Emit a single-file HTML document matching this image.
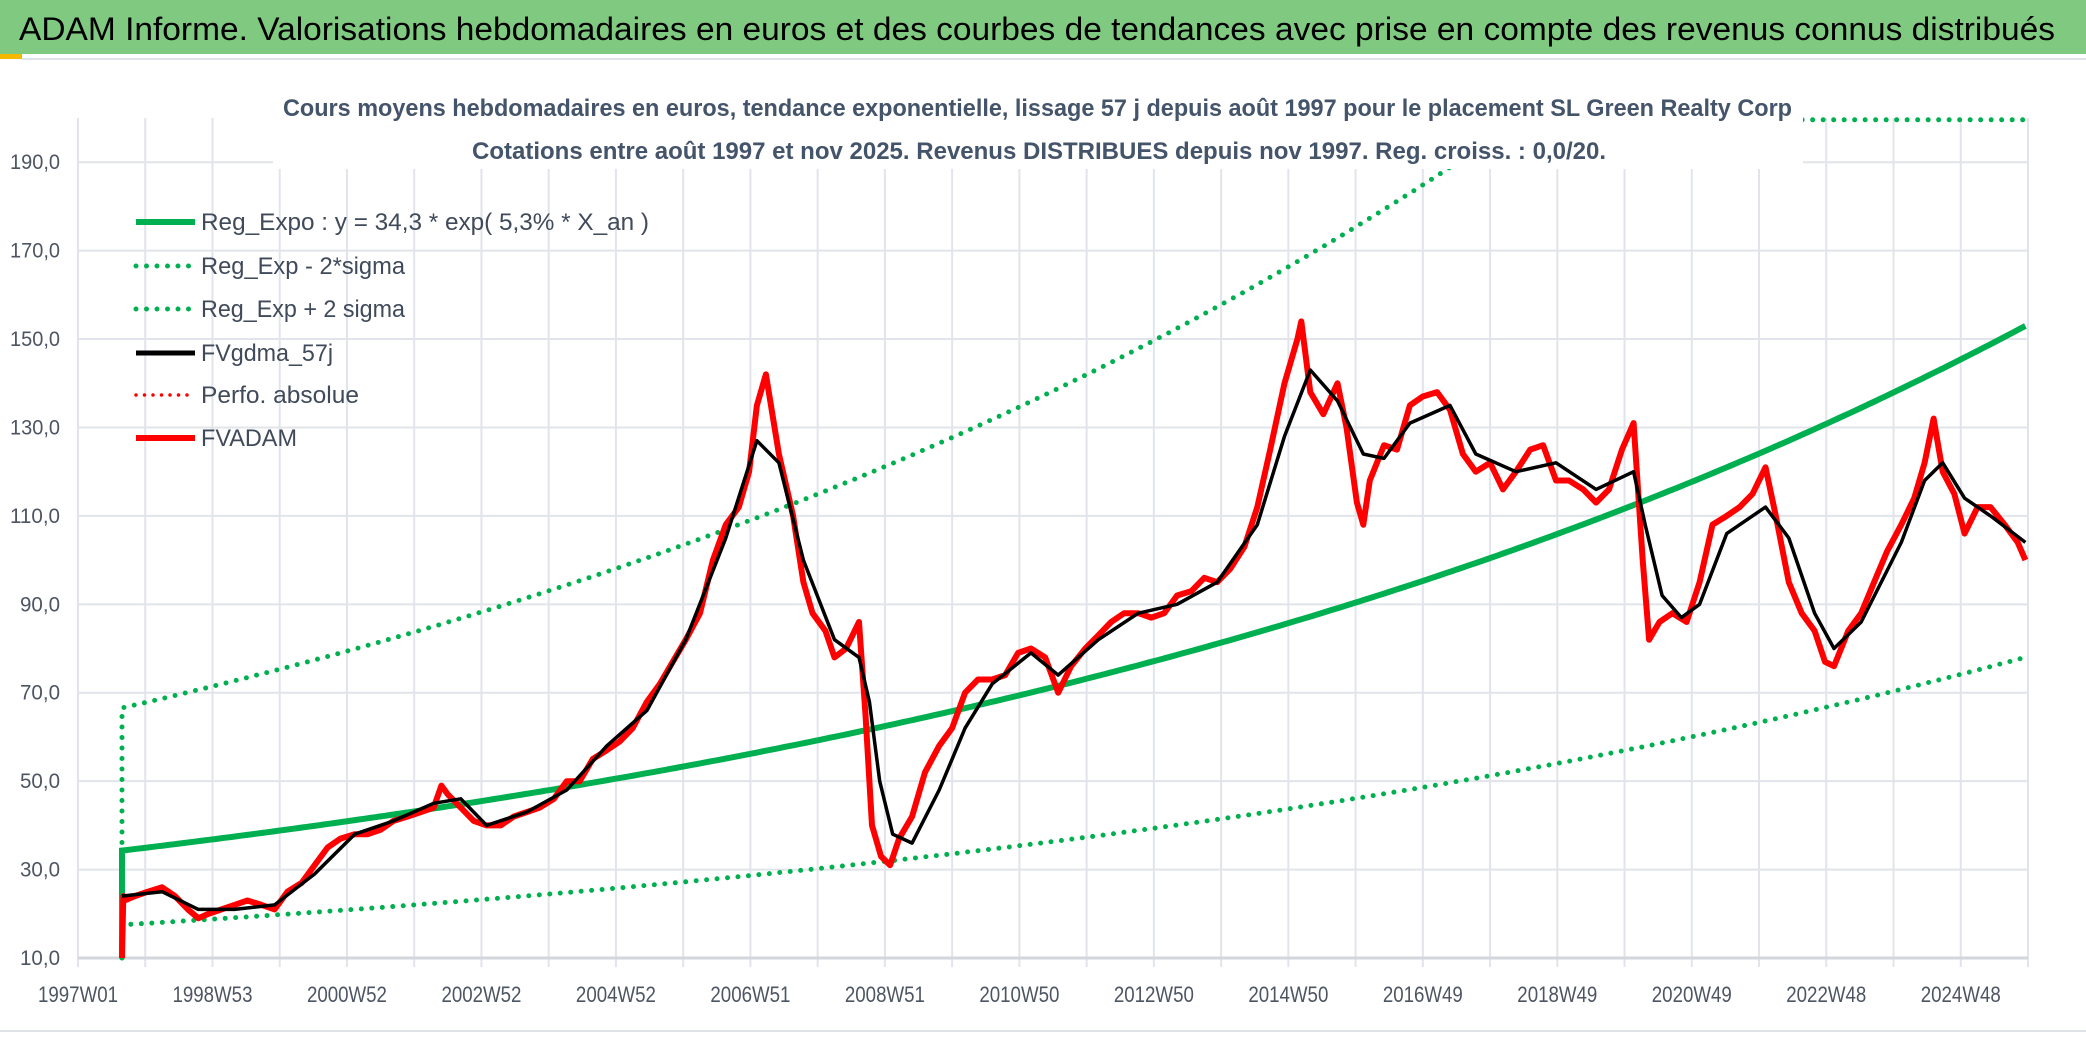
<!DOCTYPE html>
<html><head><meta charset="utf-8"><style>
html,body{margin:0;padding:0;background:#fff;}
svg{display:block;font-family:"Liberation Sans",sans-serif;}
</style></head><body>
<svg id="chart" width="2086" height="1037" viewBox="0 0 2086 1037">
<rect x="0" y="0" width="2086" height="1037" fill="#fff"/>
<rect x="0" y="0" width="2086" height="54" fill="#80c980"/>
<text x="19" y="40" font-size="32" fill="#000" textLength="2036" lengthAdjust="spacingAndGlyphs">ADAM Informe. Valorisations hebdomadaires en euros et des courbes de tendances avec prise en compte des revenus connus distribués</text>
<rect x="0" y="54" width="22" height="5" fill="#f5b800"/>
<line x1="22" y1="59" x2="2086" y2="59" stroke="#dfe2e6" stroke-width="2"/>
<line x1="0" y1="1031" x2="2086" y2="1031" stroke="#dfe2e6" stroke-width="2"/>
<g id="grid"></g>
<g id="yaxis"></g>
<g id="xaxis"></g>
<g id="series"></g>
<rect x="273" y="86" width="1530" height="83" fill="#fff"/>
<text x="283" y="116" font-size="24" font-weight="bold" fill="#44546a" textLength="1509" lengthAdjust="spacingAndGlyphs">Cours moyens hebdomadaires en euros, tendance exponentielle, lissage 57 j depuis août 1997 pour le placement SL Green Realty Corp</text>
<text x="472" y="159" font-size="24" font-weight="bold" fill="#44546a" textLength="1134" lengthAdjust="spacingAndGlyphs">Cotations entre août 1997 et nov 2025. Revenus DISTRIBUES depuis nov 1997. Reg. croiss. : 0,0/20.</text>
<g id="legend"></g>
</svg>
<script>
// ---- data ----
const xTickLabels = ["1997W01","1998W53","2000W52","2002W52","2004W52","2006W51","2008W51","2010W50","2012W50","2014W50","2016W49","2018W49","2020W49","2022W48","2024W48"];
const yTickValues = [10,30,50,70,90,110,130,150,170,190];
const regA = 34.3;        // y = 34.3 * exp(5.3% * X_an)
const regB = 0.053;
const sigmaUpFactor = 1.94;
const sigmaDownFactor = 0.51;
const regStartWeek = 34;
const regEndWeek = 1506;
const adamWeeks = [34,35,36,44,54,65,75,85,93,101,111,121,131,142,152,162,173,183,193,203,214,224,234,244,255,265,275,281,286,296,306,316,327,337,347,357,368,378,388,398,409,419,429,440,450,460,470,481,491,501,511,519,525,532,542,553,561,568,578,585,594,604,609,614,621,628,635,645,655,666,676,686,696,707,717,727,737,748,758,768,779,789,799,809,820,830,840,850,861,871,881,891,902,912,922,933,943,946,953,963,974,981,989,994,999,1010,1020,1030,1040,1051,1061,1071,1081,1092,1102,1112,1123,1133,1143,1153,1164,1174,1184,1194,1203,1210,1215,1223,1233,1244,1254,1264,1275,1285,1295,1305,1313,1323,1333,1343,1351,1358,1369,1379,1389,1399,1410,1420,1428,1435,1442,1451,1459,1469,1479,1490,1500,1506];
const adamValues = [10,24,23,24,25,26,24,21,19,20,21,22,23,22,21,25,27,31,35,37,38,38,39,41,42,43,44,49,47,44,41,40,40,42,43,44,46,50,50,55,57,59,62,68,72,77,82,88,100,108,112,120,135,142,124,110,95,88,84,78,80,86,65,40,33,31,37,42,52,58,62,70,73,73,74,79,80,78,70,76,80,83,86,88,88,87,88,92,93,96,95,98,103,112,125,140,150,154,138,133,140,130,113,108,118,126,125,135,137,138,134,124,120,122,116,120,125,126,118,118,116,113,116,125,131,100,82,86,88,86,95,108,110,112,115,121,110,95,88,84,77,76,84,88,95,102,108,114,122,132,120,115,106,112,112,108,104,100];
const smoothWeeks = [34,65,93,121,152,183,214,244,275,296,316,347,378,409,440,470,501,525,542,561,585,604,612,620,630,645,666,686,707,737,758,789,820,850,881,912,933,953,974,994,1010,1030,1061,1081,1112,1143,1174,1203,1212,1225,1240,1254,1275,1305,1323,1343,1358,1379,1410,1428,1442,1459,1479,1506];
const smoothValues = [24,25,21,21,22,29,38,41,45,46,40,43,48,58,66,82,105,127,122,100,82,78,68,50,38,36,48,62,72,79,74,82,88,90,95,108,128,143,136,124,123,131,135,124,120,122,116,120,108,92,87,90,106,112,105,88,80,86,104,118,122,114,110,104];

// ---- axes ----
const NS="http://www.w3.org/2000/svg";
const X0=78, X1=2028, WMAX=1508, Y0=958, Y1=118, VMIN=10, VMAX=200;
const xs = w => X0 + (w/WMAX)*(X1-X0);
const ys = v => Y0 - (v-VMIN)/(VMAX-VMIN)*(Y0-Y1);
function mk(tag, attrs, parent){const e=document.createElementNS(NS,tag);for(const k in attrs)e.setAttribute(k,attrs[k]);parent.appendChild(e);return e;}
const grid=document.getElementById('grid'), yax=document.getElementById('yaxis'), xax=document.getElementById('xaxis'), ser=document.getElementById('series'), leg=document.getElementById('legend');

for(let w=0; w<=WMAX; w+=52){
  const l=mk('line',{x1:xs(w),x2:xs(w),y1:Y1,y2:Y0+9,stroke:'#e1e4ea','stroke-width':2},grid);
  
  
}
yTickValues.forEach(v=>{
  const l=mk('line',{x1:X0,x2:X1,y1:ys(v),y2:ys(v),stroke:v===10?'#d3d6dc':'#e1e4ea','stroke-width':v===10?3:2},grid);
  
  
  const lab=v.toFixed(1).replace('.',',');
  const t=mk('text',{x:60,y:ys(v)+7,'font-size':21,fill:'#4d5562','text-anchor':'end',textLength:lab.length*10,lengthAdjust:'spacingAndGlyphs'},yax);
  t.textContent=lab;
  
  
});
xTickLabels.forEach((lab,i)=>{
  const t=mk('text',{x:xs(i*104),y:1002,'font-size':22,fill:'#4d5562','text-anchor':'middle',textLength:80,lengthAdjust:'spacingAndGlyphs'},xax);
  t.textContent=lab;
  
  
});

// ---- series ----
function regVal(w, f){return Math.min(199.6, regA*Math.exp(regB*(w-regStartWeek)/52.18)*f);}
function regPath(f){
  let d='M'+xs(regStartWeek)+','+ys(10);
  for(let w=regStartWeek; w<=regEndWeek; w+=4){d+=' L'+xs(w).toFixed(1)+','+ys(regVal(w,f)).toFixed(1);}
  return d;
}
const dotted={fill:'none',stroke:'#00b050','stroke-width':5,'stroke-linecap':'round','stroke-dasharray':'0 10.5'};
const up=mk('path',Object.assign({d:regPath(sigmaUpFactor)},dotted),ser);


const dn=mk('path',Object.assign({d:regPath(sigmaDownFactor)},dotted),ser);


const ctr=mk('path',{d:regPath(1),fill:'none',stroke:'#00b050','stroke-width':6},ser);



function linePath(ws, vs){return ws.map((w,i)=>(i?'L':'M')+xs(w).toFixed(1)+','+ys(vs[i]).toFixed(1)).join(' ');}
const red=mk('path',{d:linePath(adamWeeks,adamValues),fill:'none',stroke:'#ff0000','stroke-width':6,'stroke-linejoin':'round'},ser);


const blk=mk('path',{d:linePath(smoothWeeks,smoothValues),fill:'none',stroke:'#000','stroke-width':3.5,'stroke-linejoin':'round'},ser);



// ---- legend ----
const legendLabels=["Reg_Expo : y = 34,3 * exp( 5,3% *  X_an )","Reg_Exp - 2*sigma","Reg_Exp + 2 sigma","FVgdma_57j","Perfo. absolue","FVADAM"];
const legendLens=[448,204,204,132,158,96];
const legendY=[222,266,309,353,395,438];
const legendStyles=[
 {stroke:'#00b050','stroke-width':6},
 {stroke:'#00b050','stroke-width':5,'stroke-linecap':'round','stroke-dasharray':'0 10.5'},
 {stroke:'#00b050','stroke-width':5,'stroke-linecap':'round','stroke-dasharray':'0 10.5'},
 {stroke:'#000','stroke-width':5},
 {stroke:'#ff0000','stroke-width':3.5,'stroke-linecap':'round','stroke-dasharray':'0 8.5'},
 {stroke:'#ff0000','stroke-width':6}];
legendLabels.forEach((lab,i)=>{
  const g=mk('g',{},leg);
  
  
  mk('line',Object.assign({x1:136,x2:195,y1:legendY[i],y2:legendY[i]},legendStyles[i]),g);
  const t=mk('text',{x:201,y:legendY[i]+8,'font-size':24,fill:'#404a5a',textLength:legendLens[i],lengthAdjust:'spacingAndGlyphs'},g);
  t.textContent=lab;
});
</script>
</body></html>
